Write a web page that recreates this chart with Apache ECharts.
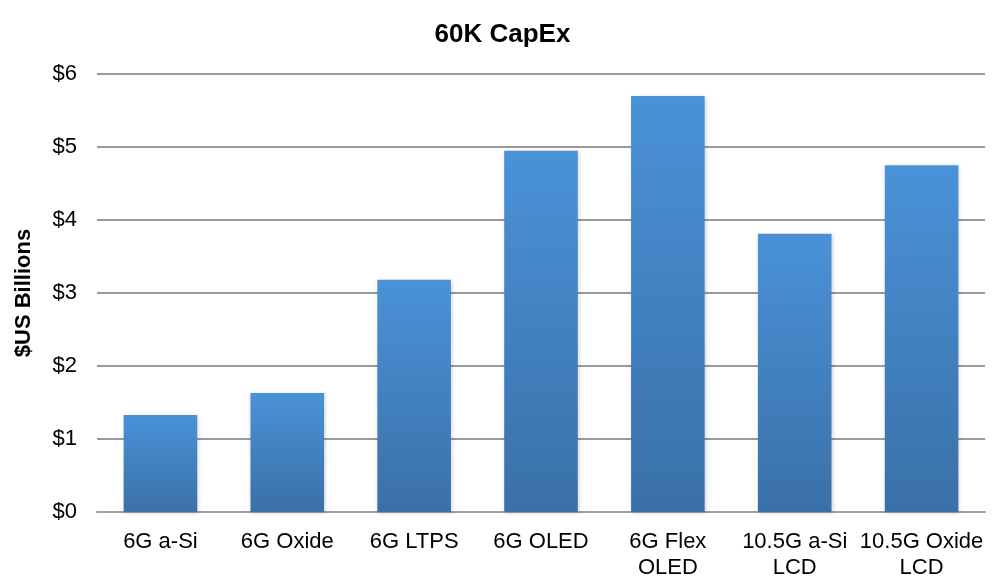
<!DOCTYPE html>
<html>
<head>
<meta charset="utf-8">
<script src="https://cdn.jsdelivr.net/npm/echarts@6/dist/echarts.min.js"></script>
<style>html,body{margin:0;padding:0;background:#fff}#c{width:1005px;height:587px}</style>
</head>
<body>
<div id="c"></div>
<script>
const categories = ['6G a-Si', '6G Oxide', '6G LTPS', '6G OLED', '6G Flex\nOLED', '10.5G a-Si\nLCD', '10.5G Oxide\nLCD'];
const capex = [1.33, 1.63, 3.18, 4.95, 5.70, 3.81, 4.75];
const yTicks = [0, 1, 2, 3, 4, 5, 6];

const chart = echarts.init(document.getElementById('c'));
const font = '"Liberation Sans", Arial, sans-serif';
chart.setOption({
  animation: false,
  backgroundColor: '#fff',
  title: {
    text: '60K CapEx', left: 'center', top: 17,
    textStyle: { fontFamily: font, fontSize: 26, fontWeight: 'bold', color: '#000' }
  },
  grid: { left: 97, right: 20, top: 74, bottom: 75 },
  xAxis: {
    type: 'category', data: categories,
    axisLine: { lineStyle: { color: '#a0a0a0', width: 2 } },
    axisTick: { show: false },
    axisLabel: { fontFamily: font, fontSize: 22, color: '#000', margin: 17, lineHeight: 26, interval: 0 }
  },
  yAxis: {
    type: 'value', min: yTicks[0], max: yTicks[yTicks.length - 1], interval: 1,
    name: '$US Billions', nameLocation: 'middle', nameGap: 62, nameRotate: 90,
    nameTextStyle: { fontFamily: font, fontSize: 22, fontWeight: 'bold', color: '#000' },
    axisLine: { show: false }, axisTick: { show: false },
    axisLabel: { fontFamily: font, fontSize: 22, color: '#000', margin: 20, formatter: v => '$' + v },
    splitLine: { lineStyle: { color: '#999999', width: 2 } }
  },
  series: [{
    type: 'bar', data: capex, barCategoryGap: '42%',
    itemStyle: {
      color: new echarts.graphic.LinearGradient(0, 0, 0, 1, [
        { offset: 0, color: '#4a92d8' }, { offset: 1, color: '#3a70a8' }
      ]),
      shadowColor: 'rgba(0,0,0,0.18)', shadowBlur: 4, shadowOffsetX: 1, shadowOffsetY: 1
    }
  }]
});
</script>
</body>
</html>
